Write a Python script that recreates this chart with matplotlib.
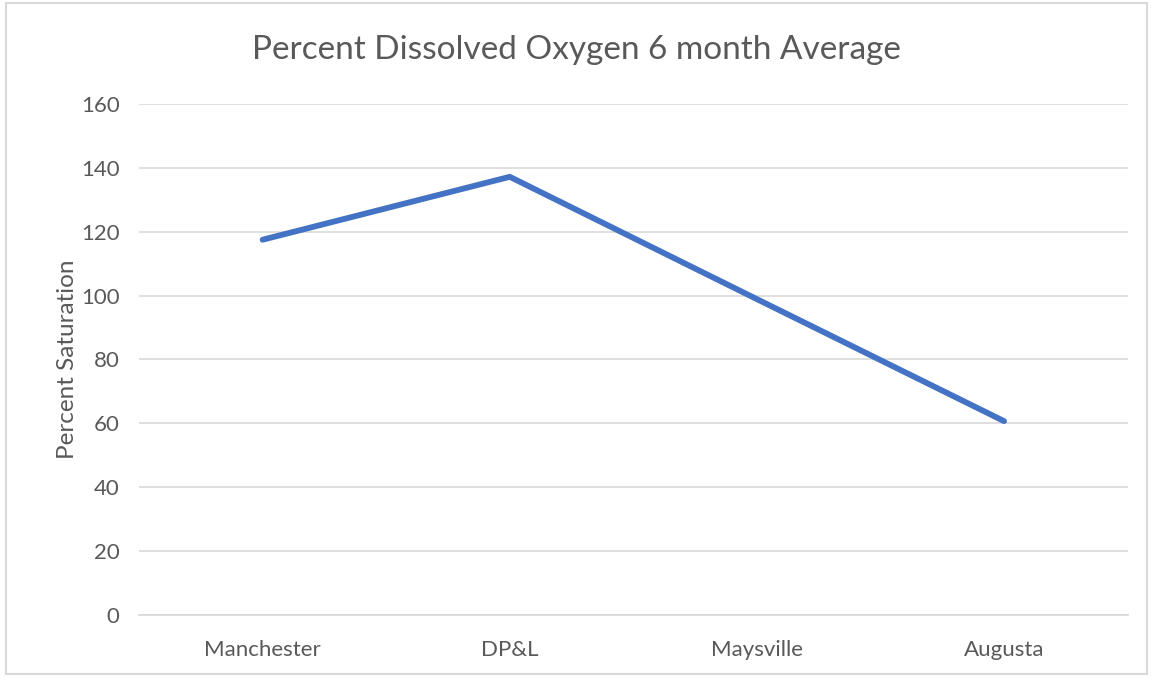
import matplotlib.pyplot as plt
from matplotlib.patches import Rectangle

sites = ['Manchester', 'DP&L', 'Maysville', 'Augusta']
saturation = [117.5, 137.2, 98.9, 60.7]
y_ticks = [0, 20, 40, 60, 80, 100, 120, 140, 160]

plt.rcParams['font.family'] = ['Lato', 'DejaVu Sans']
text_color = '#595959'
grid_color = '#d9d9d9'

fig = plt.figure(figsize=(11.53, 6.77), dpi=100)
ax = fig.add_axes([0.1206, 0.0916, 0.8574, 0.7548])

ax.plot(range(len(sites)), saturation, color='#4472c4', linewidth=4.2,
        solid_capstyle='round', solid_joinstyle='round', zorder=3)

ax.set_xlim(-0.5, len(sites) - 0.5)
ax.set_ylim(0, 160)
ax.set_yticks(y_ticks)
ax.set_xticks(range(len(sites)))
ax.set_xticklabels(sites)
ax.grid(axis='y', color=grid_color, linewidth=1.2)
ax.set_axisbelow(True)
for side in ['top', 'right', 'left']:
    ax.spines[side].set_visible(False)
ax.spines['bottom'].set_color(grid_color)
ax.spines['bottom'].set_linewidth(1.2)
ax.tick_params(length=0, colors=text_color, labelsize=16)
ax.tick_params(axis='y', pad=14)
ax.tick_params(axis='x', pad=18)
ax.set_ylabel('Percent Saturation', color=text_color, fontsize=17.5, labelpad=2)

fig.suptitle('Percent Dissolved Oxygen 6 month Average', color=text_color,
             fontsize=24, y=0.948)

# chart frame
fig.patches.append(Rectangle((0.005, 0.005), 0.99, 0.99, transform=fig.transFigure,
                             fill=False, edgecolor=grid_color, linewidth=1.5))

fig.savefig('out.png', dpi=100)
plt.close()
